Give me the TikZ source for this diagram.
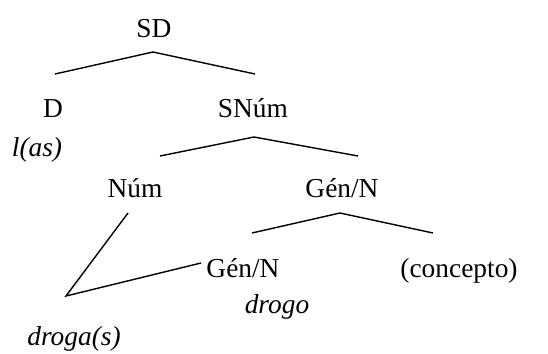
\documentclass[tikz,border=0pt]{standalone}
\usepackage{fontspec}
\setmainfont{Liberation Serif}
\usepackage{tikz}
\usetikzlibrary{positioning}

\begin{document}
\begin{tikzpicture}[x=0.5pt, y=-0.5pt,
   every node/.style={anchor=base, inner sep=0pt, font=\fontsize{13.7}{16}\selectfont},
   lex/.style={font=\fontsize{13.7}{16}\selectfont\itshape},
   roof/.style={line width=0.7pt}]
\useasboundingbox (0,0) rectangle (548,354);
%
\node (sd)   at (154,37)  {SD};
\node (d)    at (53,117)  {D};
\node (snum) at (253,117) {SNúm};
\node[lex] (las) at (37,156) {l(as)};
\node (num)  at (135,197) {Núm};
\node (gen)  at (342,197) {Gén/N};
\node (gen2) at (243,277) {Gén/N};
\node (conc) at (459,277) {(concepto)};
\node[lex] (drogo)  at (277,313) {drogo};
\node[lex] (drogas) at (74,345)  {droga(s)};

\coordinate (sd-t)   at (153,52);
\coordinate (d-t)    at (55,74);
\coordinate (snum-t) at (255,74);
\coordinate (snum-b) at (254,137);
\coordinate (num-t)  at (160,156);
\coordinate (gen-t)  at (358,156);
\coordinate (gen-b)  at (340,213);
\coordinate (gen2-t) at (252,233);
\coordinate (conc-t) at (433,233);
\coordinate (num-b)  at (128,213);
\coordinate (dr)     at (66,296);
\coordinate (gen2-l) at (201,263);

\draw[roof] (d-t) -- (sd-t) -- (snum-t);
\draw[roof] (num-t) -- (snum-b) -- (gen-t);
\draw[roof] (gen2-t) -- (gen-b) -- (conc-t);
\draw[roof] (num-b) -- (dr) -- (gen2-l);
%
\end{tikzpicture}
\end{document}
